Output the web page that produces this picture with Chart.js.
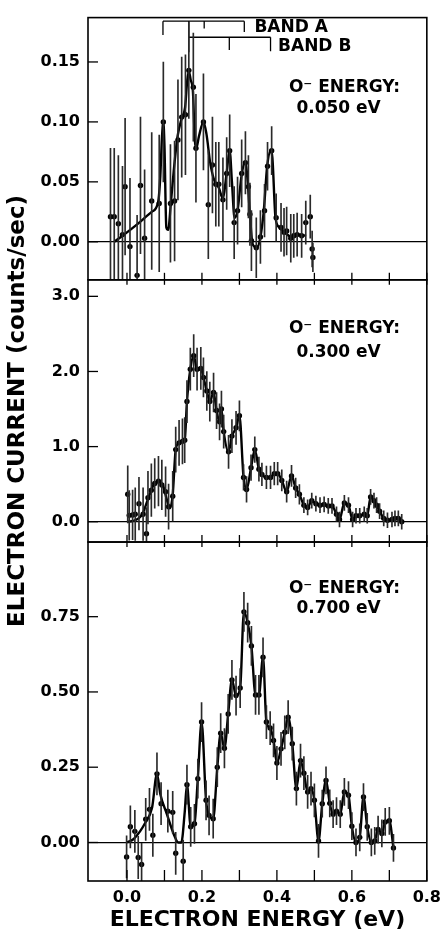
<!DOCTYPE html>
<html>
<head>
<meta charset="utf-8">
<script src="https://cdn.jsdelivr.net/npm/chart.js@4.4.1/dist/chart.umd.min.js"></script>
<style>
  html, body { margin: 0; padding: 0; background: #fff; }
</style>
</head>
<body>
<canvas id="spectra" width="448" height="939"></canvas>
<script>
// x ticks (eV) and y ticks per panel
const xTicks = [0, 0.1, 0.2, 0.3, 0.4, 0.5, 0.6, 0.7, 0.8];
const yTicks1 = [0, 0.05, 0.10, 0.15];
const yTicks2 = [0, 1, 2, 3];
const yTicks3 = [0, 0.25, 0.50, 0.75];
const energies = ['0.050 eV', '0.300 eV', '0.700 eV'];

// panel 1 : O- energy 0.050 eV
const x1 = [-0.044,-0.034,-0.023,-0.012,-0.005,0.008,0.027,0.036,0.047,0.066,0.086,0.097,0.116,0.127,0.136,0.146,0.156,0.165,0.177,0.184,0.204,0.217,0.228,0.237,0.245,0.256,0.266,0.274,0.286,0.295,0.306,0.316,0.324,0.328,0.332,0.345,0.356,0.367,0.375,0.386,0.398,0.411,0.419,0.426,0.437,0.445,0.454,0.466,0.477,0.489,0.494,0.496];
const y1 = [0.021,0.021,0.015,0.006,0.046,-0.004,-0.028,0.047,0.003,0.034,0.032,0.100,0.032,0.034,0.085,0.104,0.106,0.143,0.129,0.078,0.100,0.031,0.064,0.048,0.048,0.035,0.057,0.076,0.016,0.026,0.057,0.066,0.046,0.023,0.001,-0.005,0.004,0.026,0.063,0.076,0.020,0.012,0.008,0.009,0.003,0.005,0.006,0.005,0.016,0.021,-0.006,-0.013];
const err1 = [0.057,0.057,0.057,0.057,0.057,0.057,0.05,0.057,0.057,0.057,0.057,0.05,0.049,0.05,0.05,0.05,0.05,0.04,0.045,0.045,0.04,0.045,0.04,0.035,0.035,0.035,0.03,0.03,0.03,0.028,0.028,0.026,0.026,0.026,0.025,0.025,0.022,0.022,0.02,0.02,0.02,0.02,0.02,0.02,0.02,0.018,0.018,0.018,0.018,0.018,0.015,0.012];
const fitX1 = [-0.034,-0.012,0.027,0.066,0.083,0.089,0.093,0.097,0.100,0.105,0.110,0.117,0.125,0.135,0.146,0.155,0.161,0.165,0.170,0.176,0.181,0.185,0.192,0.204,0.212,0.222,0.232,0.245,0.256,0.265,0.274,0.280,0.287,0.295,0.306,0.316,0.322,0.328,0.334,0.341,0.348,0.356,0.365,0.374,0.384,0.388,0.396,0.406,0.420,0.440,0.460,0.478];
const fitY1 = [0.0,0.005,0.0145,0.025,0.033,0.055,0.085,0.100,0.080,0.012,0.010,0.032,0.060,0.088,0.103,0.112,0.135,0.142,0.135,0.125,0.085,0.078,0.088,0.100,0.090,0.066,0.052,0.045,0.036,0.055,0.076,0.050,0.020,0.026,0.056,0.067,0.050,0.023,0.000,-0.004,-0.004,0.004,0.026,0.063,0.076,0.070,0.021,0.012,0.008,0.004,0.006,0.005];

// band brackets (tick positions in eV, bracket level, tick ends)
const bandA = [0.096, 0.165, 0.206, 0.313];
const bandAEnds = [0.1725, 0.1706, 0.178, 0.175];
const bandALevel = 0.184;
const bandB = [0.165, 0.273, 0.383];
const bandBEnds = [0.158, 0.160, 0.159];
const bandBLevel = 0.1706;

// panel 2 : O- energy 0.300 eV
const x2 = [0.002,0.006,0.015,0.022,0.032,0.043,0.052,0.056,0.065,0.074,0.084,0.093,0.103,0.111,0.122,0.130,0.139,0.148,0.154,0.160,0.169,0.178,0.187,0.197,0.204,0.213,0.221,0.231,0.239,0.247,0.252,0.258,0.271,0.280,0.291,0.300,0.311,0.319,0.331,0.341,0.352,0.360,0.372,0.383,0.393,0.402,0.413,0.426,0.439,0.450,0.460,0.472,0.482,0.493,0.504,0.515,0.526,0.537,0.547,0.559,0.567,0.580,0.591,0.602,0.611,0.621,0.633,0.641,0.650,0.659,0.666,0.674,0.685,0.695,0.707,0.715,0.724,0.733];
const y2 = [0.365,0.085,0.09,0.10,0.24,0.10,-0.16,0.32,0.42,0.51,0.54,0.49,0.40,0.20,0.34,0.96,1.05,1.07,1.085,1.60,2.03,2.21,2.03,2.04,1.92,1.74,1.60,1.72,1.48,1.33,1.50,1.20,0.93,1.14,1.25,1.41,0.59,0.43,0.72,0.96,0.70,0.63,0.59,0.59,0.64,0.64,0.55,0.40,0.61,0.45,0.365,0.22,0.19,0.28,0.24,0.22,0.23,0.21,0.21,0.10,0.03,0.25,0.22,0.03,0.08,0.08,0.10,0.08,0.33,0.28,0.22,0.14,0.045,0.02,0.03,0.045,0.045,0.0];
const err2 = [0.38,0.33,0.33,0.35,0.35,0.35,0.35,0.35,0.35,0.33,0.33,0.33,0.33,0.3,0.33,0.3,0.3,0.3,0.3,0.28,0.28,0.28,0.28,0.28,0.26,0.26,0.26,0.26,0.24,0.24,0.24,0.22,0.22,0.22,0.22,0.2,0.17,0.17,0.17,0.17,0.16,0.15,0.15,0.15,0.15,0.15,0.14,0.14,0.14,0.13,0.13,0.1,0.1,0.1,0.1,0.1,0.1,0.1,0.1,0.1,0.1,0.1,0.1,0.1,0.1,0.1,0.1,0.1,0.1,0.1,0.1,0.1,0.1,0.1,0.1,0.1,0.1,0.1,0.1];
const leadX2 = [0.0,0.017,0.041,0.056,0.072,0.084,0.097,0.106,0.115,0.122];
const leadY2 = [0.0,0.01,0.1,0.3,0.5,0.54,0.47,0.3,0.18,0.36];

// panel 3 : O- energy 0.700 eV
const x3 = [-0.001,0.009,0.021,0.030,0.039,0.050,0.060,0.069,0.080,0.091,0.109,0.122,0.130,0.150,0.160,0.170,0.180,0.189,0.199,0.211,0.219,0.230,0.241,0.250,0.260,0.270,0.280,0.291,0.302,0.312,0.322,0.332,0.343,0.352,0.363,0.372,0.382,0.391,0.400,0.411,0.421,0.430,0.441,0.452,0.463,0.472,0.482,0.491,0.500,0.511,0.521,0.531,0.541,0.550,0.559,0.569,0.580,0.591,0.600,0.611,0.621,0.631,0.641,0.652,0.661,0.670,0.680,0.689,0.700,0.711];
const y3 = [-0.048,0.052,0.037,-0.05,-0.073,0.077,0.11,0.024,0.228,0.129,0.104,0.10,-0.036,-0.062,0.192,0.052,0.062,0.212,0.40,0.14,0.09,0.079,0.25,0.363,0.313,0.427,0.54,0.488,0.513,0.766,0.73,0.653,0.49,0.49,0.615,0.40,0.38,0.339,0.264,0.311,0.366,0.416,0.328,0.179,0.272,0.23,0.168,0.179,0.14,0.005,0.129,0.206,0.13,0.094,0.104,0.094,0.168,0.157,0.054,0.0,0.017,0.151,0.052,0.0,0.005,0.043,0.03,0.068,0.072,-0.018];
const err3 = [0.07,0.07,0.07,0.07,0.07,0.07,0.07,0.07,0.07,0.07,0.07,0.07,0.07,0.07,0.065,0.065,0.065,0.065,0.065,0.065,0.065,0.065,0.065,0.065,0.065,0.065,0.065,0.065,0.065,0.065,0.065,0.065,0.065,0.065,0.065,0.055,0.055,0.055,0.055,0.055,0.055,0.055,0.055,0.055,0.055,0.055,0.055,0.055,0.055,0.055,0.045,0.045,0.045,0.045,0.045,0.045,0.045,0.045,0.045,0.045,0.045,0.045,0.045,0.045,0.045,0.045,0.045,0.045,0.045,0.045];
const leadX3 = [0.0,0.019,0.05,0.067,0.080,0.089,0.106,0.124,0.137,0.145,0.154];
const leadY3 = [0.0,0.013,0.068,0.116,0.228,0.16,0.096,0.03,0.0,0.0,0.1];

const FONT = '"DejaVu Sans", sans-serif';

function pts(xs, ys) { return xs.map((x, i) => ({x: x, y: ys[i]})); }

function panelSets(axis, xs, ys, errs, fx, fy) {
  return [
    { type: 'bar', yAxisID: axis, data: xs.map((x, i) => ({x: x, y: [ys[i] - errs[i], ys[i] + errs[i]]})),
      backgroundColor: '#2a2a2a', barThickness: 1, grouped: false, borderWidth: 0 },
    { type: 'line', yAxisID: axis, data: pts(fx, fy), borderColor: '#000', borderWidth: 2.4,
      pointRadius: 0, fill: false, cubicInterpolationMode: 'monotone' },
    { type: 'scatter', yAxisID: axis, data: pts(xs, ys), pointRadius: 2.7,
      backgroundColor: '#000', borderWidth: 0 }
  ];
}

function bracket(ticks, ends, level) {
  const d = [];
  ticks.forEach((t, i) => { d.push({x: t, y: level}, {x: t, y: ends[i]}, {x: t, y: null}); });
  d.push({x: ticks[0], y: level}, {x: ticks[ticks.length - 1], y: level});
  return { type: 'line', yAxisID: 'y1', data: d, borderColor: '#000', borderWidth: 1.3,
           pointRadius: 0, tension: 0, spanGaps: false };
}

const fit2X = leadX2.concat(x2.filter(x => x >= 0.13));
const fit2Y = leadY2.concat(y2.filter((v, i) => x2[i] >= 0.13));
const fit3X = leadX3.concat(x3.filter(x => x >= 0.16));
const fit3Y = leadY3.concat(y3.filter((v, i) => x3[i] >= 0.16));

function yScale(ticks, min, max, digits, weight, extra) {
  return Object.assign({
    type: 'linear', position: 'left', stack: 'panels', stackWeight: weight,
    min: min, max: max,
    border: { display: false },
    grid: { drawTicks: false, color: c => (c.tick && c.tick.value === 0 ? '#000' : 'rgba(0,0,0,0)'), lineWidth: 1.2 },
    afterBuildTicks: s => { s.ticks = ticks.map(v => ({value: v})); },
    afterFit: s => { s.width = 88; },
    ticks: { padding: 8, color: '#000', font: { family: FONT, size: 16, weight: 'bold' },
             callback: v => Number(v).toFixed(digits) }
  }, extra || {});
}

// clip each panel's marks to its own band
const panelClip = {
  id: 'panelClip',
  beforeDatasetDraw(chart, args) {
    const s = chart.scales[args.meta.yAxisID], a = chart.chartArea;
    chart.ctx.save();
    chart.ctx.beginPath();
    chart.ctx.rect(a.left, s.top, a.right - a.left, s.bottom - s.top);
    chart.ctx.clip();
  },
  afterDatasetDraw(chart) { chart.ctx.restore(); }
};

// panel frames, inward ticks, notes
const frame = {
  id: 'frame',
  afterDraw(chart) {
    const {ctx, chartArea: a, scales} = chart;
    const seg = (xa, ya, xb, yb) => { ctx.beginPath(); ctx.moveTo(xa, ya); ctx.lineTo(xb, yb); ctx.stroke(); };
    ctx.save();
    ctx.strokeStyle = '#000';
    const bottomMost = Math.max(scales.y1.bottom, scales.y2.bottom, scales.y3.bottom);
    ['y1', 'y2', 'y3'].forEach(id => {
      const s = scales[id];
      ctx.lineWidth = 1.6;
      ctx.strokeRect(a.left, s.top, a.right - a.left, s.bottom - s.top);
      ctx.lineWidth = 1.3;
      s.ticks.forEach(t => { const py = s.getPixelForValue(t.value); seg(a.left, py, a.left + 10, py); });
      scales.x.ticks.forEach(t => {
        const px = scales.x.getPixelForValue(t.value);
        if (s.bottom >= bottomMost - 1) seg(px, s.bottom, px, s.bottom - 11);
        else seg(px, s.bottom - 7, px, s.bottom + 5);
      });
    });
    ctx.fillStyle = '#000';
    ctx.textBaseline = 'middle';
    ctx.textAlign = 'left';
    ctx.font = 'bold 17px ' + FONT;
    const x = scales.x;
    ctx.fillText('BAND A', x.getPixelForValue(0.340), scales.y1.getPixelForValue(0.179));
    ctx.fillText('BAND B', x.getPixelForValue(0.403), scales.y1.getPixelForValue(0.163));
    const at = [[0.129, 0.111], [2.57, 2.25], [0.845, 0.776]];
    energies.forEach((e, i) => {
      const s = scales['y' + (i + 1)];
      ctx.fillText('O\u207B ENERGY:', x.getPixelForValue(0.432), s.getPixelForValue(at[i][0]));
      ctx.fillText(e, x.getPixelForValue(0.452), s.getPixelForValue(at[i][1]));
    });
    ctx.restore();
  }
};

new Chart(document.getElementById('spectra'), {
  type: 'scatter',
  data: {
    datasets: [].concat(
      panelSets('y1', x1, y1, err1, fitX1, fitY1),
      [bracket(bandA, bandAEnds, bandALevel), bracket(bandB, bandBEnds, bandBLevel)],
      panelSets('y2', x2, y2, err2, fit2X, fit2Y),
      panelSets('y3', x3, y3, err3, fit3X, fit3Y)
    )
  },
  options: {
    responsive: false,
    animation: false,
    devicePixelRatio: 1,
    layout: { padding: { top: 15, right: 13, left: 0, bottom: 0 } },
    plugins: { legend: { display: false }, tooltip: { enabled: false } },
    scales: {
      x: {
        type: 'linear', position: 'bottom', min: -0.104, max: 0.8, offset: false,
        border: { display: false },
        grid: { display: false, drawTicks: false },
        afterBuildTicks: s => { s.ticks = xTicks.map(v => ({value: v})); },
        afterFit: s => { s.height = 58; },
        ticks: { autoSkip: false, maxRotation: 0, padding: 7, color: '#000',
                 font: { family: FONT, size: 16, weight: 'bold' },
                 callback: v => (Math.round(v * 10) % 2 === 0 ? Number(v).toFixed(1) : '') },
        title: { display: true, text: 'ELECTRON ENERGY (eV)', color: '#000',
                 font: { family: FONT, size: 22, weight: 'bold' }, padding: { top: 0, bottom: 6 } }
      },
      // left stacked boxes are laid out bottom-up, so the lowest panel comes first
      y3: yScale(yTicks3, -0.128, 0.998, 2, 340),
      y2: yScale(yTicks2, -0.27, 3.22, 1, 263, {
        title: { display: true, text: 'ELECTRON CURRENT (counts/sec)', color: '#000',
                 font: { family: FONT, size: 23, weight: 'bold' },
                 padding: { top: 4, bottom: 0 } }
      }),
      y1: yScale(yTicks1, -0.0317, 0.187, 2, 263)
    }
  },
  plugins: [panelClip, frame]
});
</script>
</body>
</html>
